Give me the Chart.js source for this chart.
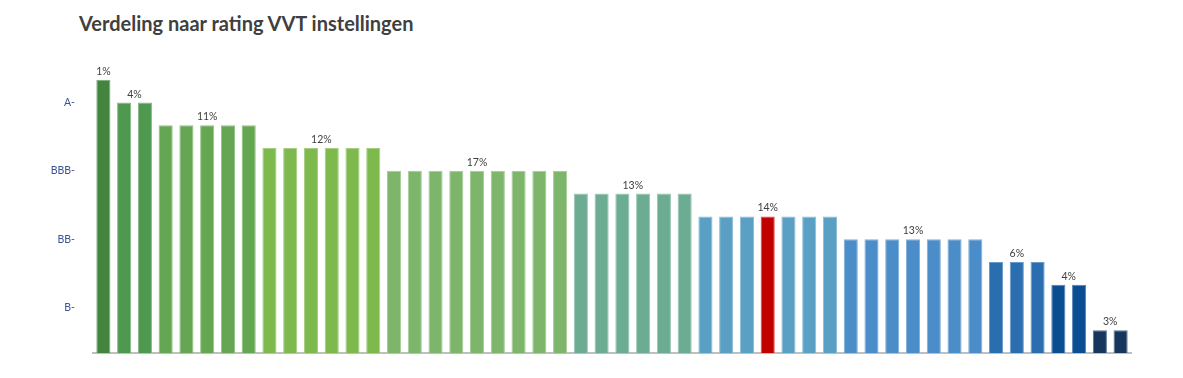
<!DOCTYPE html>
<html>
<head>
<meta charset="utf-8">
<script src="https://cdn.jsdelivr.net/npm/chart.js@4/dist/chart.umd.min.js"></script>
<style>
html,body{margin:0;padding:0;background:#fff;}
#wrap{position:relative;width:1183px;height:378px;}
#title{position:absolute;left:79px;top:11px;font-family:Lato,"Open Sans",sans-serif;font-weight:bold;font-size:20px;line-height:24px;color:#404040;}
canvas{position:absolute;left:0;top:0;}
</style>
</head>
<body>
<div id="wrap">
<div id="title">Verdeling naar rating VVT instellingen</div>
<canvas id="ratingChart" width="1183" height="378"></canvas>
</div>
<script>
// Rating per instelling (1 = CCC+ ... 12 = A)
const ratingValues = [
12,
11,11,
10,10,10,10,10,
9,9,9,9,9,9,
8,8,8,8,8,8,8,8,8,
7,7,7,7,7,7,
6,6,6,6,6,6,6,
5,5,5,5,5,5,5,
4,4,4,
3,3,
1,1
];

const categories = ratingValues.map((v, i) => "Instelling " + (i + 1));

// groepen: eerste en laatste balk, percentage
const groupStart = [0, 1, 3, 8, 14, 23, 29, 36, 43, 46, 48];
const groupEnd   = [0, 2, 7, 13, 22, 28, 35, 42, 45, 47, 49];
const groupPct   = ["1%", "4%", "11%", "12%", "17%", "13%", "14%", "13%", "6%", "4%", "3%"];
const groupColors = [
"#43843F", "#4E9850", "#64A651", "#7EB94E", "#7DB66B", "#6BAC93",
"#5AA0C4", "#4A8DC8", "#2A6EB0", "#0B4D91", "#17365D"
];
const highlightIndex = 32;
const highlightColor = "#C00000";

const yTickValues = [2, 5, 8, 11];
const yTickLabels = ["B-", "BB-", "BBB-", "A-"];

function lighten(hex, f) {
  const n = parseInt(hex.slice(1), 16);
  const r = (n >> 16) & 255, g = (n >> 8) & 255, b = n & 255;
  const m = c => Math.round(c + (255 - c) * f);
  return "rgb(" + m(r) + "," + m(g) + "," + m(b) + ")";
}

const barColors = ratingValues.map((v, i) => {
  if (i === highlightIndex) return highlightColor;
  const g = groupStart.findIndex((s, k) => i >= s && i <= groupEnd[k]);
  return groupColors[g];
});
const barBorders = barColors.map(c => lighten(c, 0.3));

const groupLabels = {
  id: "groupLabels",
  afterDatasetsDraw(chart) {
    const ctx = chart.ctx;
    const xs = chart.scales.x, ys = chart.scales.y;
    ctx.save();
    ctx.font = "10.5px Lato, 'Open Sans', sans-serif";
    ctx.fillStyle = "#404040";
    ctx.textAlign = "center";
    ctx.textBaseline = "alphabetic";
    groupPct.forEach((t, k) => {
      const x = (xs.getPixelForValue(groupStart[k]) + xs.getPixelForValue(groupEnd[k])) / 2;
      const y = ys.getPixelForValue(ratingValues[groupStart[k]]) - 5;
      ctx.fillText(t, x, y);
    });
    ctx.restore();
  }
};

new Chart(
document.getElementById("ratingChart"),
{
type: "bar",
data: {
  labels: categories,
  datasets: [{
    data: ratingValues,
    backgroundColor: barColors,
    borderColor: barBorders,
    borderWidth: 1,
    borderSkipped: "bottom",
    barPercentage: 0.68,
    categoryPercentage: 1
  }]
},
options: {
  responsive: false,
  animation: false,
  layout: { padding: { left: 0, right: 52, top: 57, bottom: 0 } },
  plugins: {
    legend: { display: false },
    tooltip: { enabled: false },
    title: { display: false }
  },
  scales: {
    x: {
      grid: { display: false },
      ticks: { display: false },
      border: { display: true, color: "#BFBFBF", width: 2 },
      afterFit(scale) { scale.height = 25; }
    },
    y: {
      min: 0,
      max: 13,
      grid: { display: false, drawTicks: false },
      border: { display: false },
      afterBuildTicks(scale) { scale.ticks = yTickValues.map(v => ({ value: v })); },
      afterFit(scale) { scale.width = 93; },
      ticks: {
        padding: 18,
        color: "#3B5593",
        font: { family: "Lato, 'Open Sans', sans-serif", size: 10.5 },
        callback: v => yTickLabels[yTickValues.indexOf(v)]
      }
    }
  }
},
plugins: [groupLabels]
}
);
</script>
</body>
</html>
